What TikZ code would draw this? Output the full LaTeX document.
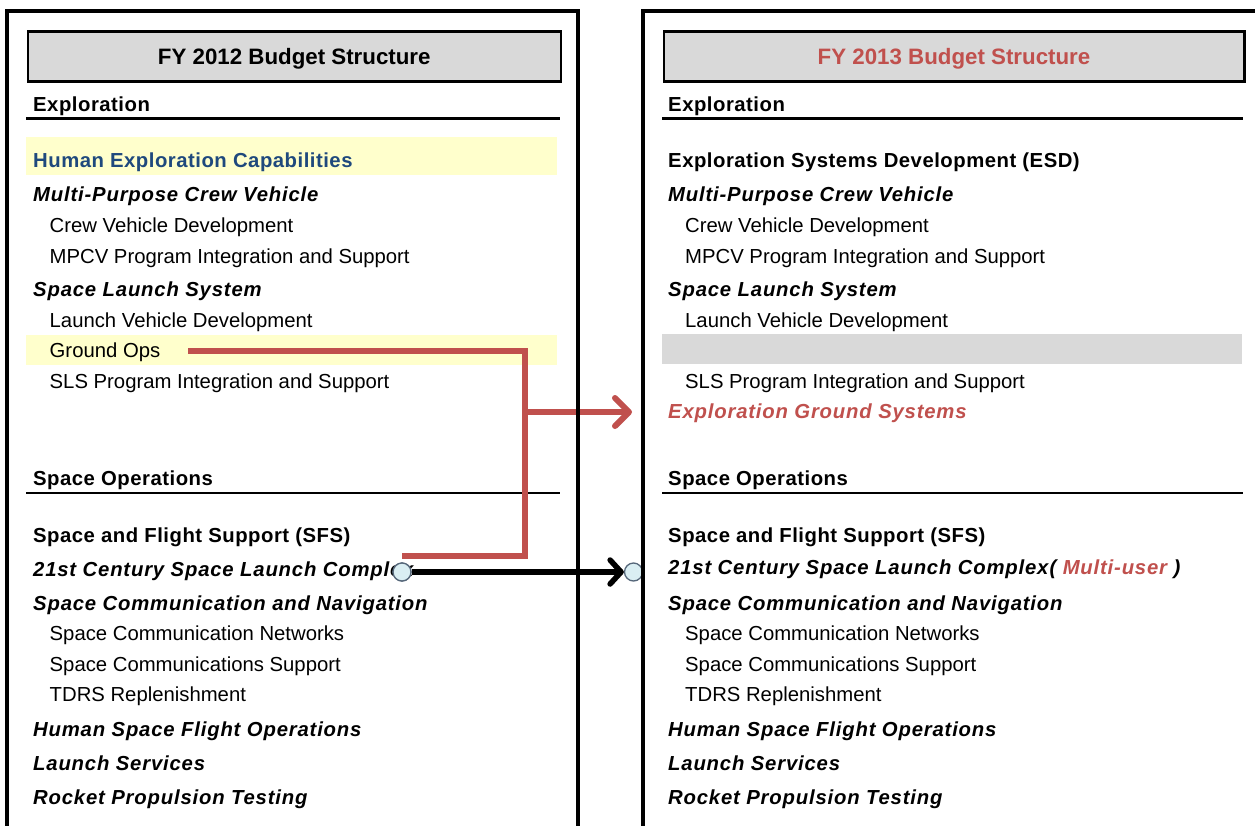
\documentclass[tikz,border=0pt]{standalone}
\usepackage{fontspec}
\setmainfont{Liberation Sans}
\newfontfamily\spacedsub[LetterSpace=4]{Liberation Sans}
\newfontfamily\spacedgrp[LetterSpace=2.5]{Liberation Sans}
\usetikzlibrary{arrows.meta}
\definecolor{boxgray}{HTML}{D9D9D9}
\definecolor{bandyellow}{HTML}{FFFFCC}
\definecolor{redc}{HTML}{C0504D}
\definecolor{bluec}{HTML}{1F497D}
\definecolor{dotfill}{HTML}{DAEEF3}
\definecolor{dotedge}{HTML}{56677A}
\newcommand\fsz{\fontsize{20.3}{24}\selectfont}
\newcommand\tsz{\fontsize{22.3}{26}\selectfont}
\tikzset{
  lbl/.style={anchor=base west, inner sep=0pt, font=\fsz},
  grp/.style={lbl, font=\spacedgrp\fsz\bfseries},
  sub/.style={lbl, font=\spacedsub\fsz\bfseries\itshape},
  item/.style={lbl},
  frameline/.style={line width=4pt, line cap=rect, line join=miter},
  titlebox/.style={draw=black, line width=2.5pt, fill=boxgray, anchor=north west,
    minimum height=50pt, text height=15.9pt, text depth=0pt, inner sep=0pt, font=\tsz\bfseries},
  rulebar/.style={line width=2.2pt},
  redline/.style={draw=redc, line width=6pt},
  blackarrow/.style={draw=black, line width=5.5pt, -{Straight Barb[length=11pt,width=24pt,round]}},
  redarrow/.style={redline, -{Straight Barb[length=14pt,width=28pt,round]}},
  dot/.style={circle, minimum size=18pt, inner sep=0pt, fill=dotfill, draw=dotedge, line width=1.3pt}
}
\begin{document}
\begin{tikzpicture}[x=1pt,y=-1pt]
\useasboundingbox (0,0) rectangle (1255,825);
\fill[white] (0,0) rectangle (1255,825);
% bands
\fill[bandyellow] (26,137) rectangle (557,175);
\fill[bandyellow] (26,335) rectangle (557,365);
\fill[boxgray] (662,334) rectangle (1242,364);
% title boxes
\node[titlebox, minimum width=533pt] (LT) at (26.5,30) {FY 2012 Budget Structure};
\node[titlebox, minimum width=580.5pt, text=redc] (RT) at (662.5,30) {FY 2013 Budget Structure};
% rules
\draw[rulebar] (26,118.5) -- (560,118.5);
\draw[rulebar] (662,118.5) -- (1243,118.5);
\draw[line width=2pt] (26,492.5) -- (560,492.5);
\draw[line width=2pt] (662,492.5) -- (1243,492.5);
% left column
\node[grp] (L1) at (33,111) {Exploration};
\node[grp, text=bluec] (L2) at (33,167) {Human Exploration Capabilities};
\node[sub] (L3) at (33,201) {Multi-Purpose Crew Vehicle};
\node[item] (L4) at (49.5,232.5) {Crew Vehicle Development};
\node[item] (L5) at (49.5,263) {MPCV Program Integration and Support};
\node[sub] (L6) at (33,296.5) {Space Launch System};
\node[item] (L7) at (49.5,327.5) {Launch Vehicle Development};
\node[item] (gops) at (49.5,357.5) {Ground Ops};
\node[item] (L9) at (49.5,388.5) {SLS Program Integration and Support};
\node[grp] (L10) at (33,485) {Space Operations};
\node[grp] (L11) at (33,542) {Space and Flight Support (SFS)};
\node[sub] (L12) at (33,576) {21st Century Space Launch Complex};
\node[sub] (L13) at (33,610.5) {Space Communication and Navigation};
\node[item] (L14) at (49.5,640.5) {Space Communication Networks};
\node[item] (L15) at (49.5,671) {Space Communications Support};
\node[item] (L16) at (49.5,701) {TDRS Replenishment};
\node[sub] (L17) at (33,736) {Human Space Flight Operations};
\node[sub] (L18) at (33,770) {Launch Services};
\node[sub] (L19) at (33,804) {Rocket Propulsion Testing};
% right column
\node[grp] (R1) at (668,111) {Exploration};
\node[grp] (R2) at (668,167) {Exploration Systems Development (ESD)};
\node[sub] (R3) at (668,201) {Multi-Purpose Crew Vehicle};
\node[item] (R4) at (685,232.5) {Crew Vehicle Development};
\node[item] (R5) at (685,263) {MPCV Program Integration and Support};
\node[sub] (R6) at (668,296.5) {Space Launch System};
\node[item] (R7) at (685,327.5) {Launch Vehicle Development};
\node[item] (R9) at (685,388.5) {SLS Program Integration and Support};
\node[sub, text=redc] (egs) at (668,418.5) {Exploration Ground Systems};
\node[grp] (R10) at (668,485) {Space Operations};
\node[grp] (R11) at (668,542) {Space and Flight Support (SFS)};
\node[sub] (R12) at (668,574.5) {21st Century Space Launch Complex\kern1pt(\ \textcolor{redc}{Multi-user}\ )};
\node[sub] (R13) at (668,610.5) {Space Communication and Navigation};
\node[item] (R14) at (685,640.5) {Space Communication Networks};
\node[item] (R15) at (685,671) {Space Communications Support};
\node[item] (R16) at (685,701) {TDRS Replenishment};
\node[sub] (R17) at (668,736) {Human Space Flight Operations};
\node[sub] (R18) at (668,770) {Launch Services};
\node[sub] (R19) at (668,804) {Rocket Propulsion Testing};
% red connector
\coordinate (gstart) at (188,351);
\coordinate (rc1) at (525,351);
\coordinate (rc2) at (525,556);
\coordinate (rend) at (402,556);
\coordinate (rbr) at (525,412);
\coordinate (rtip) at (632,412);
\draw[redline, line join=miter] (gstart) -- (rc1) -- (rc2) -- (rend);
\draw[redarrow] (rbr) -- (rtip);
% black connector
\node[dot] (cL) at (402,572) {};
\node[dot] (cR) at (633.5,572) {};
\draw[blackarrow] (cL) -- (cR);
\node[dot] at (cL) {};
% frames
\draw[frameline] (7,830) -- (7,11) -- (578,11) -- (578,830);
\draw[frameline] (643,830) -- (643,11) -- (1260,11);
\end{tikzpicture}
\end{document}
